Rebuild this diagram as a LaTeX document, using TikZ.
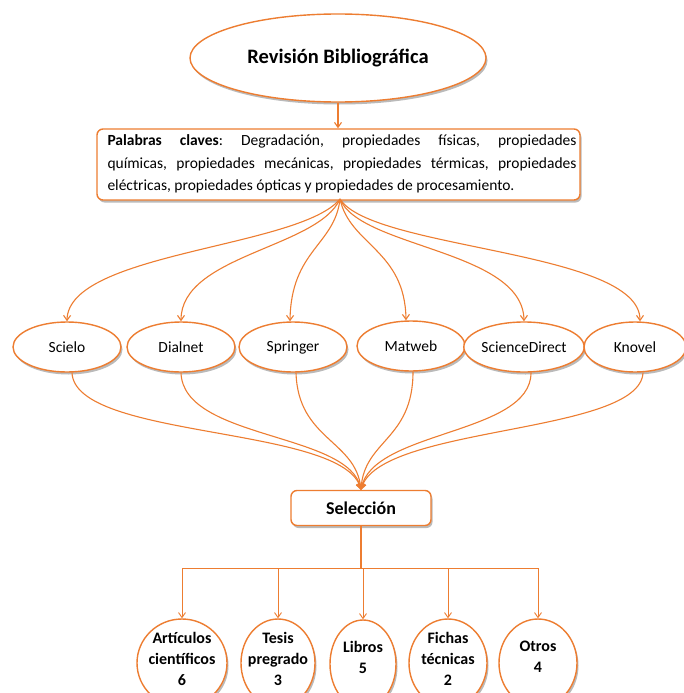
\documentclass[tikz,border=0pt]{standalone}
\usepackage{fontspec}
\setmainfont{Carlito}
\usetikzlibrary{shapes.geometric,arrows.meta,shadows,calc}
\definecolor{orng}{RGB}{237,125,49}
\tikzset{
  shad/.style={drop shadow={shadow xshift=1.5pt,shadow yshift=-2.5pt,fill=black!60,opacity=.45}},
  ell/.style={ellipse,draw=orng,line width=1.4pt,fill=white,shad,inner sep=0pt,align=center},
  rbox/.style={rectangle,rounded corners=6pt,draw=orng,line width=1.4pt,fill=white,shad},
  conn/.style={draw=orng,line width=1.1pt},
  arr/.style={conn,-{Straight Barb[length=5pt,width=7pt]}},
  restext/.style={align=center,inner sep=0pt,font=\fontsize{16}{21}\selectfont\bfseries},
}
\begin{document}
\begin{tikzpicture}[x=1pt,y=-1pt]
\useasboundingbox (0,0) rectangle (684,693);
\fill[white] (0,0) rectangle (684,693);
\clip (0,0) rectangle (684,693);

% top
\node[ell,minimum width=296pt,minimum height=88pt,font=\fontsize{20.5}{24}\selectfont\bfseries] (rev) at (338,58) {Revisión Bibliográfica};
\node[rbox,minimum width=483pt,minimum height=71pt,inner sep=0pt] (pal) at (338.5,164.5) {};
\node[text width=469pt,align=justify,font=\fontsize{15.5}{22.5}\selectfont,inner sep=0pt] (paltext) at (342,164) {\frenchspacing\hyphenpenalty=10000\textbf{Palabras claves}: Degradación, propiedades físicas, propiedades\linebreak químicas, propiedades mecánicas, propiedades térmicas, propiedades\linebreak eléctricas, propiedades ópticas y propiedades de procesamiento.};
\draw[arr] (rev.south) -- (pal.north -| rev.south);

% sources
\tikzset{src/.style={ell,minimum width=108pt,minimum height=50pt,font=\fontsize{15.5}{18}\selectfont}}
\node[src] (sci) at (67,347) {Scielo};
\node[src] (dia) at (181,347) {Dialnet};
\node[src] (spr) at (293,347) {Springer};
\node[src] (mat) at (411,346) {Matweb};
\node[src,minimum width=110pt] (sd) at (524,347) {ScienceDirect};
\node[src,minimum width=102pt] (kno) at (635,347) {Knovel};

\coordinate (fan) at (340,199);
\draw[arr] (fan) .. controls (300,248) and (68,252) .. (sci.north);
\draw[arr] (fan) .. controls (318,248) and (181,255) .. (dia.north);
\draw[arr] (fan) .. controls (335,245) and (291,250) .. ($(spr.north)+(-3,0)$);
\draw[arr] (fan) .. controls (350,245) and (405,250) .. ($(mat.north)+(-5,0)$);
\draw[arr] (fan) .. controls (360,248) and (523,250) .. (sd.north);
\draw[arr] (fan) .. controls (372,250) and (640,250) .. ($(kno.north)+(5,0)$);

% selection
\node[rbox,minimum width=140pt,minimum height=35pt,font=\fontsize{18}{21}\selectfont\bfseries] (sel) at (361,508) {Selección};

\draw[arr] ($(sci.south)+(5,0)$) .. controls (75,440) and (345,425) .. (sel.north);
\draw[arr] (dia.south) .. controls (183,440) and (350,432) .. (sel.north);
\draw[arr] ($(spr.south)+(3,0)$) .. controls (298,440) and (356,440) .. (sel.north);
\draw[arr] ($(mat.south)+(2,0)$) .. controls (413,440) and (364,440) .. (sel.north);
\draw[arr] ($(sd.south)+(7,0)$) .. controls (531,435) and (372,430) .. (sel.north);
\draw[arr] ($(kno.south)+(8,0)$) .. controls (640,435) and (378,425) .. (sel.north);

% results
\tikzset{res/.style={ell,minimum height=88pt}}
\node[res,minimum width=90pt] (art) at (182,663) {};
\node[res,minimum width=74pt] (tes) at (278,663) {};
\node[res,minimum width=66pt] (lib) at (363,664) {};
\node[res,minimum width=78pt] (fic) at (448,663) {};
\node[res,minimum width=78pt] (otr) at (538,663) {};
\node[restext] (artt) at (182,659) {Artículos\\científicos\\6};
\node[restext] (test) at (278,659) {Tesis\\pregrado\\3};
\node[restext] (libt) at (363,657) {Libros\\5};
\node[restext] (fict) at (448,659) {Fichas\\técnicas\\2};
\node[restext] (otrt) at (538,657) {Otros\\4};

\coordinate (spine) at (360,568);
\draw[conn] (sel.south) -- (sel.south |- spine);
\foreach \n in {art,tes,lib,fic,otr}{
  \draw[arr,line width=0.9pt] (sel.south |- spine) -| (\n.north);
}
\end{tikzpicture}
\end{document}
